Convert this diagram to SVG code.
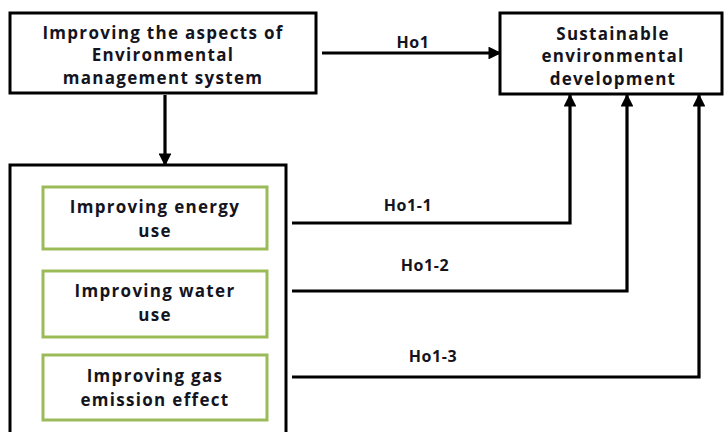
<svg xmlns="http://www.w3.org/2000/svg" width="725" height="432" viewBox="0 0 725 432">
<defs>
<marker id="ah" viewBox="0 0 10 10" refX="9" refY="5" markerWidth="4" markerHeight="4" orient="auto" markerUnits="strokeWidth">
<path d="M0,0 L10,5 L0,10 z" fill="#000"/>
</marker>
<style>
.box{fill:#fff;stroke:#000;stroke-width:3}
.gbox{fill:#fff;stroke:#9bbb59;stroke-width:3}
.t{font-family:"Open Sans","Noto Sans",sans-serif;font-weight:bold;font-size:17px;letter-spacing:1.3px;fill:#141420;text-anchor:middle}
.lbl{font-family:"Open Sans","Noto Sans",sans-serif;font-weight:bold;font-size:16px;letter-spacing:0.6px;fill:#141420;text-anchor:middle}
.c{fill:none;stroke:#000;stroke-width:3.2}
</style>
</defs>
<rect width="725" height="432" fill="#fff"/>
<g id="n-ems">
<rect class="box" x="10" y="13" width="306" height="80"/>
<text class="t" x="163" y="39">Improving the aspects of</text>
<text class="t" x="163" y="61">Environmental</text>
<text class="t" x="163" y="84">management system</text>
</g>
<g id="n-sed">
<rect class="box" x="500" y="13" width="222" height="81"/>
<text class="t" x="613" y="40">Sustainable</text>
<text class="t" x="613" y="62">environmental</text>
<text class="t" x="613" y="85">development</text>
</g>
<g id="n-container">
<rect class="box" x="10" y="165" width="276" height="280"/>
</g>
<g id="n-energy">
<rect class="gbox" x="43" y="187" width="224" height="62"/>
<text class="t" x="155" y="213">Improving energy</text>
<text class="t" x="155" y="237">use</text>
</g>
<g id="n-water">
<rect class="gbox" x="43" y="271" width="224" height="66"/>
<text class="t" x="155" y="297">Improving water</text>
<text class="t" x="155" y="321">use</text>
</g>
<g id="n-gas">
<rect class="gbox" x="43" y="355" width="224" height="65"/>
<text class="t" x="155" y="382">Improving gas</text>
<text class="t" x="155" y="406">emission effect</text>
</g>
<g id="connectors">
<path class="c" d="M322,53 H500" marker-end="url(#ah)"/>
<path class="c" d="M165,95 V165" marker-end="url(#ah)"/>
<path class="c" d="M292,223 H570 V95" marker-end="url(#ah)"/>
<path class="c" d="M292,291 H627 V95" marker-end="url(#ah)"/>
<path class="c" d="M292,377 H699 V95" marker-end="url(#ah)"/>
<text class="lbl" x="413" y="48">Ho1</text>
<text class="lbl" x="408" y="211">Ho1-1</text>
<text class="lbl" x="425" y="271">Ho1-2</text>
<text class="lbl" x="433" y="362">Ho1-3</text>
</g>
</svg>
